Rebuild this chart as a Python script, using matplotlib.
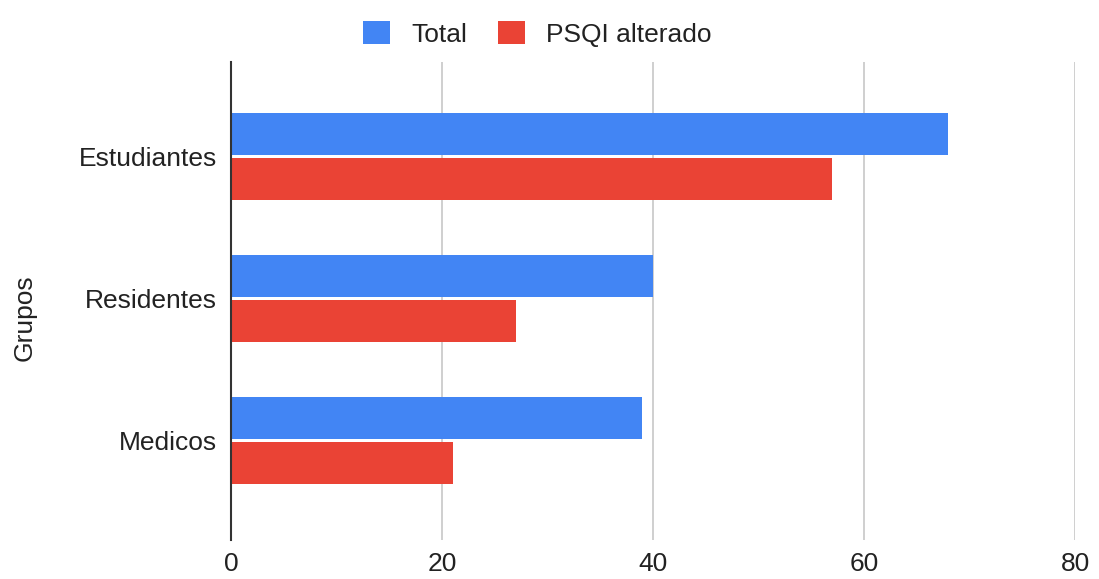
import matplotlib.pyplot as plt
import numpy as np

plt.rcParams['font.family'] = ['Liberation Sans', 'DejaVu Sans']

grupos = ['Estudiantes', 'Residentes', 'Medicos']
total = [68, 40, 39]
psqi_alterado = [57, 27, 21]
xticks = [0, 20, 40, 60, 80]

azul = '#4285F4'
rojo = '#EA4335'

fig = plt.figure(figsize=(10.99, 5.79), dpi=100)
ax = fig.add_axes([0.2102, 0.0674, 0.7680, 0.8255])

y = np.arange(len(grupos))
h = 0.296
ax.barh(y - 0.158, total, height=h, color=azul, label='Total', zorder=3)
ax.barh(y + 0.158, psqi_alterado, height=h, color=rojo, label='PSQI alterado', zorder=3)

ax.set_xlim(0, 80)
ax.set_ylim(2.70, -0.665)
ax.set_xticks(xticks)
ax.set_xticklabels([str(t) for t in xticks])
ax.set_yticks(y)
ax.set_yticklabels(grupos)
ax.tick_params(axis='both', length=0, labelsize=19, colors='#222222')
ax.tick_params(axis='x', pad=9)
ax.tick_params(axis='y', pad=10)

ax.grid(axis='x', color='#cccccc', linewidth=1.3, zorder=0)
for s in ['top', 'right', 'bottom']:
    ax.spines[s].set_visible(False)
ax.spines['left'].set_color('#333333')
ax.spines['left'].set_linewidth(1.5)
ax.spines['left'].set_zorder(4)

fig.text(0.022, 0.452, 'Grupos', rotation=90, ha='center', va='center',
         fontsize=19, color='#222222')

fig.legend(loc='upper center', bbox_to_anchor=(0.489, 1.005), ncol=2, frameon=False,
           fontsize=19, handlelength=1.0, handleheight=1.0, handletextpad=0.8,
           columnspacing=1.2, labelcolor='#222222')

fig.savefig('out.png', dpi=100, facecolor='white')
